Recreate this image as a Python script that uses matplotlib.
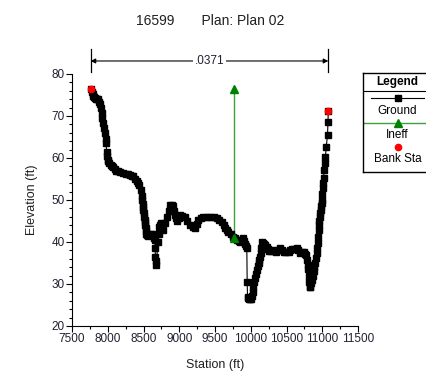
import numpy as np
import matplotlib
matplotlib.use('Agg')
import matplotlib.pyplot as plt
from matplotlib.ticker import MultipleLocator

plt.rcParams['font.family'] = ['Liberation Sans', 'DejaVu Sans']

# ground profile (station ft, elevation ft)
station = [7760, 7775, 7790, 7800, 7810, 7825, 7840, 7855, 7870, 7880,
           7890, 7900, 7915, 7925, 7939, 7950, 7962, 7970, 7976, 7985,
           7990, 8000, 8008, 8020, 8040, 8060, 8078, 8100, 8120, 8145,
           8172, 8210, 8250, 8280, 8312, 8340, 8360, 8385, 8406, 8425,
           8440, 8460, 8476, 8485, 8490, 8495, 8499, 8505, 8510, 8516,
           8522, 8526, 8530, 8533, 8536, 8550, 8560, 8580, 8600, 8620,
           8638, 8650, 8660, 8665, 8665, 8672, 8680, 8700, 8710, 8720,
           8730, 8740, 8760, 8778, 8800, 8825, 8850, 8872, 8895, 8918,
           8930, 8942, 8955, 8965, 8990, 9012, 9045, 9082, 9115, 9152,
           9190, 9222, 9245, 9268, 9300, 9338, 9385, 9432, 9480, 9525,
           9560, 9595, 9620, 9642, 9665, 9688, 9720, 9758, 9780, 9805,
           9830, 9852, 9875, 9898, 9910, 9922, 9935, 9945, 9950, 9955,
           9965, 9975, 9990, 10000, 10015, 10025, 10038, 10050, 10060, 10072,
           10085, 10100, 10110, 10120, 10132, 10140, 10145, 10155, 10165, 10180,
           10200, 10225, 10240, 10260, 10290, 10318, 10340, 10360, 10385, 10412,
           10435, 10460, 10490, 10528, 10555, 10580, 10610, 10645, 10665, 10690,
           10715, 10738, 10755, 10770, 10785, 10795, 10800, 10808, 10815, 10822,
           10832, 10845, 10855, 10868, 10880, 10890, 10902, 10912, 10920, 10928,
           10934, 10942, 10948, 10955, 10960, 10967, 10972, 10980, 10985, 10990,
           10995, 11000, 11004, 11012, 11019, 11028, 11035, 11042, 11056, 11074,
           11080, 11085]
elevation = [76.4, 75.8, 75.3, 74.8, 74.5, 74.2, 74.0, 74.1, 74.0, 73.4,
             72.8, 71.8, 70.6, 69.5, 68.3, 67.2, 65.9, 64.6, 63.5, 61.5,
             60.5, 59.6, 59.2, 58.7, 58.3, 58.0, 57.8, 57.4, 57.0, 56.9,
             56.7, 56.5, 56.3, 56.2, 56.0, 55.8, 55.6, 55.1, 54.6, 54.0,
             53.5, 52.3, 51.0, 50.0, 49.0, 48.3, 47.6, 46.8, 46.0, 45.3,
             44.8, 44.0, 43.3, 42.6, 42.0, 41.7, 41.5, 41.6, 41.8, 41.8,
             41.7, 41.0, 40.5, 38.5, 36.5, 35.5, 34.5, 40.0, 42.0, 43.5,
             44.0, 44.5, 43.0, 42.9, 44.5, 46.0, 47.5, 48.8, 48.9, 48.6,
             47.5, 46.4, 45.6, 45.0, 45.8, 46.4, 46.2, 46.0, 45.0, 44.0,
             43.5, 43.3, 44.3, 45.2, 45.8, 46.0, 46.0, 46.0, 45.9, 45.6,
             45.3, 44.8, 44.0, 43.3, 42.9, 42.5, 42.0, 41.3, 40.9, 40.5,
             40.3, 40.1, 40.5, 40.9, 40.2, 39.5, 39.0, 38.5, 30.5, 27.0,
             26.6, 26.4, 26.4, 26.5, 27.2, 28.2, 29.4, 30.5, 31.5, 32.4,
             33.3, 34.2, 35.0, 35.8, 36.5, 37.5, 38.5, 40.1, 39.8, 39.5,
             39.2, 38.9, 38.3, 37.8, 37.9, 38.1, 37.8, 37.6, 38.0, 38.5,
             38.0, 37.6, 37.6, 37.7, 38.0, 38.3, 38.4, 38.5, 38.0, 37.5,
             37.6, 37.7, 37.2, 36.8, 35.7, 34.6, 33.5, 32.0, 30.5, 29.2,
             29.3, 30.2, 31.0, 32.0, 33.0, 34.0, 34.9, 36.2, 37.5, 38.6,
             39.7, 41.3, 42.9, 44.0, 45.0, 45.9, 46.8, 47.7, 48.5, 49.2,
             50.0, 51.4, 52.8, 54.0, 55.2, 57.1, 58.7, 60.3, 62.7, 65.5,
             68.5, 71.3]

ineff_sta = [9770, 9770]
ineff_elev = [41.0, 76.5]

bank_sta = [7760, 11085]
bank_elev = [76.4, 71.3]

mann_n = '.0371'

fig = plt.figure(figsize=(4.26, 3.72), dpi=100)
ax = fig.add_axes([72 / 426, 1 - 326 / 372, 286 / 426, 252 / 372])

ax.plot(station, elevation, color='black', lw=0.8, marker='s', ms=3.8, zorder=3)
ax.plot(ineff_sta, ineff_elev, color='#3f9f3f', lw=1.0, zorder=2)
ax.plot(ineff_sta[0], ineff_elev[0], color='green', marker='^', ms=6, ls='none', zorder=4)
ax.plot(ineff_sta[1], ineff_elev[1], color='green', marker='^', ms=6, ls='none', zorder=4, clip_on=False)
ax.plot(bank_sta, bank_elev, color='red', marker='o', ms=4.5, ls='none', zorder=5, clip_on=False)

ax.set_xlim(7500, 11500)
ax.set_ylim(20, 80)
ax.xaxis.set_major_locator(MultipleLocator(500))
ax.xaxis.set_minor_locator(MultipleLocator(250))
ax.yaxis.set_major_locator(MultipleLocator(10))
ax.yaxis.set_minor_locator(MultipleLocator(2))
ax.tick_params(which='major', direction='out', length=4, width=0.8, labelsize=8.5, pad=1,
               labelcolor='#202030')
ax.tick_params(which='minor', direction='out', length=2, width=0.8)
ax.spines['top'].set_visible(False)
ax.spines['right'].set_visible(False)
ax.set_xlabel('Station (ft)', fontsize=9, labelpad=10, color='#202020')
ax.set_ylabel('Elevation (ft)', fontsize=9, labelpad=10, color='#202020')

# manning's n span above the plot
y_arr = 83.1
ax.annotate('', xy=(bank_sta[0], y_arr), xytext=(bank_sta[1], y_arr),
            arrowprops=dict(arrowstyle='<|-|>', color='black', lw=0.8,
                            mutation_scale=7, shrinkA=0, shrinkB=0),
            annotation_clip=False)
for s in bank_sta:
    ax.plot([s, s], [80.5, 86.0], color='black', lw=0.9, clip_on=False)
ax.text(sum(bank_sta) / 2, y_arr, mann_n, ha='center', va='center', fontsize=8.5,
        color='#202030', bbox=dict(facecolor='white', edgecolor='none', pad=1), clip_on=False)

fig.text(210 / 426, 1 - 21 / 372, '16599       Plan: Plan 02', ha='center', va='center',
         fontsize=10, color='#202020')

# legend box
lg = fig.add_axes([363 / 426, 1 - 172 / 372, 70 / 426, 99 / 372])
lg.set_xlim(0, 70)
lg.set_ylim(99, 0)
lg.set_xticks([])
lg.set_yticks([])
for sp in lg.spines.values():
    sp.set_linewidth(1.0)
lg.text(34.5, 8.7, 'Legend', ha='center', va='center', fontsize=8.5, fontweight='bold')
lg.plot([0, 70], [18, 18], color='black', lw=0.8)
lg.plot([8, 61], [24.7, 24.7], color='black', lw=0.8)
lg.plot(34.7, 24.7, color='black', marker='s', ms=4)
lg.text(34.5, 37.7, 'Ground', ha='center', va='center', fontsize=8.5)
lg.plot([0, 70], [49.7, 49.7], color='#3f9f3f', lw=1.0)
lg.plot(34.7, 49.7, color='green', marker='^', ms=6)
lg.text(34.5, 62, 'Ineff', ha='center', va='center', fontsize=8.5)
lg.plot(34.7, 74.3, color='red', marker='o', ms=4.5)
lg.text(34.5, 86.3, 'Bank Sta', ha='center', va='center', fontsize=8.5)

fig.savefig('out.png', dpi=100)
